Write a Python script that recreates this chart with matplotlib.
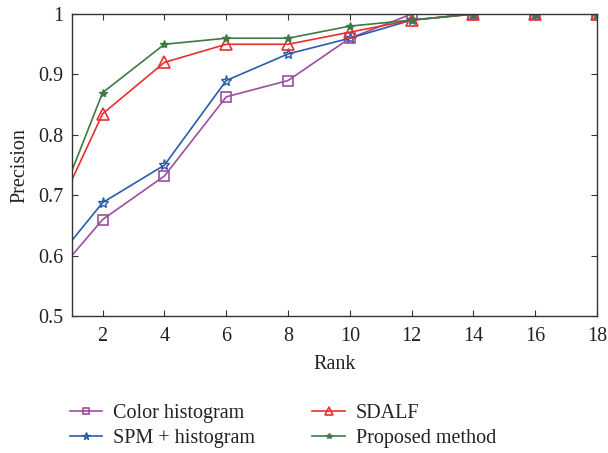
import numpy as np
import matplotlib
matplotlib.use('Agg')
import matplotlib.pyplot as plt

plt.rcParams['font.family'] = ['Liberation Serif', 'DejaVu Serif']

rank = [1, 2, 4, 6, 8, 10, 12, 14, 16, 18]
color_hist = [0.60, 0.66, 0.732, 0.863, 0.89, 0.96, 1.0, 1.0, 1.0, 1.0]
spm_hist = [0.625, 0.688, 0.75, 0.89, 0.934, 0.96, 0.99, 1.0, 1.0, 1.0]
sdalf = [0.725, 0.835, 0.92, 0.95, 0.95, 0.97, 0.99, 1.0, 1.0, 1.0]
proposed = [0.74, 0.87, 0.95, 0.96, 0.96, 0.98, 0.99, 1.0, 1.0, 1.0]

fig = plt.figure(figsize=(6.08, 4.53), dpi=100)
ax = fig.add_axes([0.118, 0.302, 0.864, 0.667])

mk = slice(1, None)
ax.plot(rank, color_hist, color='#9b4f9f', lw=1.2, marker='s', ms=7,
        mfc='none', mew=1.2, markevery=mk, label='Color histogram')
ax.plot(rank, spm_hist, color='#2a5caa', lw=1.2, marker='*', ms=8,
        mfc='none', mew=1.0, markevery=mk, label='SPM + histogram')
ax.plot(rank, sdalf, color='#e8302e', lw=1.2, marker='^', ms=8,
        mfc='none', mew=1.2, markevery=mk, label='SDALF')
ax.plot(rank, proposed, color='#3d7a44', lw=1.2, marker='*', ms=6,
        markevery=mk, label='Proposed method')

ax.set_xlim(1, 18)
ax.set_ylim(0.5, 1.0)
ax.set_xticks(range(2, 19, 2))
ax.set_yticks([0.5, 0.6, 0.7, 0.8, 0.9, 1.0])
ax.set_yticklabels(['0.5', '0.6', '0.7', '0.8', '0.9', '1'])
ax.tick_params(direction='in', top=True, right=True, labelsize=14.5, length=4,
               color='#333333', labelcolor='#222222')
ax.tick_params(axis='x', pad=8)
ax.tick_params(axis='y', pad=6)
for s in ax.spines.values():
    s.set_color('#333333')
    s.set_linewidth(1.0)

ax.set_xlabel('Rank', fontsize=14.5, labelpad=6, color='#222222')
ax.set_ylabel('Precision', fontsize=14.5, labelpad=6, color='#222222')

handles, labels = ax.get_legend_handles_labels()
fig.legend(handles, labels, loc='lower left', bbox_to_anchor=(0.085, -0.03),
           ncol=2, frameon=False, fontsize=14.5, handlelength=1.6,
           handletextpad=0.55, columnspacing=2.85, labelspacing=0.3,
           markerscale=0.7, labelcolor='#222222')

fig.savefig('out.png', dpi=100)
